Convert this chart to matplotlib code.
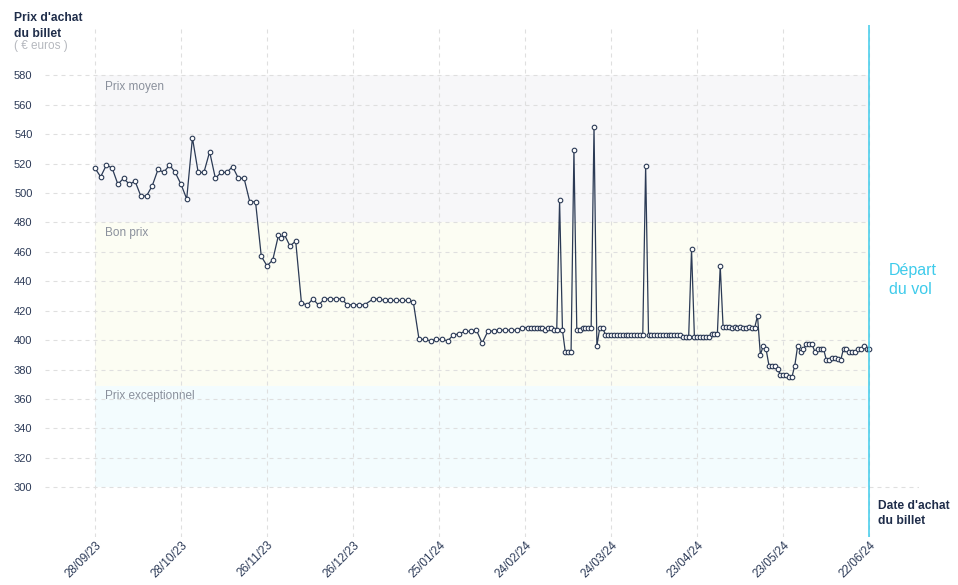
import matplotlib
matplotlib.use("Agg")
import matplotlib.pyplot as plt

plt.rcParams['font.family'] = ['Liberation Sans', 'DejaVu Sans']

# jours depuis le 28/09/23 (date d'achat) et prix du billet en euros
jours = (list(range(0, 61, 2)) + [62, 64, 65, 66, 68, 70]
         + list(range(72, 95, 2)) + list(range(97, 150, 2)) + list(range(151, 271)))

prix = [
    # tous les 2 jours, 28/09 -> 26/11
    517, 511, 519, 517, 506, 510, 506, 508, 498, 498, 505, 516, 514, 519, 514, 506,
    496, 537.5, 514, 514, 528, 510, 514, 514, 518, 510, 510, 494, 494, 457, 450.5,
    454.5, 471.4, 469.6, 472, 464, 467.3,
    425.4, 423.8, 428, 423.8, 428, 428, 428, 428, 424, 424, 424, 424,
    428, 428, 427, 427, 427, 427, 427, 426, 400.5, 400.5, 399.5, 400.5, 400.5, 399.5,
    403.6, 404.3, 406, 406, 406.8, 398, 406, 406.3, 406.8, 406.8, 406.8, 406.8, 408.4,
    # tous les jours
    408.4, 408.4, 408.4, 408.4, 408.4, 408.4, 406.8, 408.4, 408.4, 406.8, 406.8,
    495, 406.8, 391.8, 391.8, 391.8, 529, 406.8, 406.8, 408.4, 408.4, 408.4, 408.4,
    545, 396, 408.4, 408.4,
    403.6, 403.6, 403.6, 403.6, 403.6, 403.6, 403.6, 403.6, 403.6, 403.6, 403.6, 403.6, 403.6, 403.6,
    518.4,
    403.4, 403.4, 403.4, 403.4, 403.4, 403.4, 403.4, 403.4, 403.4, 403.4, 403.4, 403.4,
    402.3, 402.3, 402.3, 461.7, 402.3, 402.3, 402.3, 402.3, 402.3, 402.3,
    403.9, 403.9, 403.9, 450.5,
    409, 409, 409, 408, 409, 408, 409, 408, 408, 409, 408.4, 408.4, 416.5,
    390, 396.2, 393.7, 382.7, 382.7, 382.7, 380.3, 376.4, 376.4, 376.4, 375, 375,
    382.7, 396.2, 392.1, 393.7, 397.3, 397.3, 397.3, 392.1, 394.3, 394.3, 394.3,
    386.4, 386.4, 388, 388, 387.1, 386.4, 394.3, 393.7, 392.1, 392.1, 392.1,
    393.7, 393.7, 396.2, 393.7, 393.7,
]

graduations_y = [300, 320, 340, 360, 380, 400, 420, 440, 460, 480, 500, 520, 540, 560, 580]
graduations_x = [0, 30, 60, 90, 120, 150, 180, 210, 240, 270]
etiquettes_x = ['28/09/23', '28/10/23', '26/11/23', '26/12/23', '25/01/24',
                '24/02/24', '24/03/24', '23/04/24', '23/05/24', '22/06/24']

# zones de prix (bas, haut, nom, position du nom)
zones = [(480, 580, 'Prix moyen', 572), (369, 480, 'Bon prix', 472.8),
         (300, 369, 'Prix exceptionnel', 362)]
couleurs_zones = ['#f7f7f9', '#fcfdf3', '#f3fcfe']

W, H = 958, 585
fig = plt.figure(figsize=(W / 100, H / 100), dpi=100)
ax = fig.add_axes([45 / W, 48 / H, (919 - 45) / W, (537 - 25) / H])
xmin, xmax = -17.4, 287.3
ax.set_xlim(xmin, xmax)
ax.set_ylim(266.2, 614.2)

gris = '#dfdfdf'
tirets = (0, (3.6, 3.6))

for (bas, haut, nom, ynom), c in zip(zones, couleurs_zones):
    ax.fill_between([jours[0], jours[-1]], bas, haut, color=c, lw=0, zorder=0)
    ax.text(jours[0] + 3.5, ynom, nom, color='#8a909c', fontsize=8.5,
            va='center', ha='left', zorder=1)

for v in graduations_y:
    fin = xmax if v == graduations_y[0] else jours[-1]
    ax.hlines(v, xmin, fin, colors=gris, lw=0.8, linestyles=tirets, zorder=1)
for d in graduations_x:
    ax.axvline(d, color=gris, lw=0.8, ls=tirets, zorder=1)

ax.axvline(jours[-1], color='#3ecbeb', lw=1.1, zorder=4)

ax.plot(jours, prix, color='#2b3a55', lw=0.9, marker='o', markersize=3.3,
        markerfacecolor='white', markeredgecolor='#2b3a55', markeredgewidth=0.8, zorder=3)

ax.set_yticks(graduations_y)
ax.set_yticklabels([str(v) for v in graduations_y])
ax.set_xticks(graduations_x)
ax.set_xticklabels(etiquettes_x, rotation=45, ha='right', va='top', rotation_mode='anchor')
ax.tick_params(axis='y', length=0, pad=9, labelsize=8, labelcolor='#2c3a57')
ax.tick_params(axis='x', length=0, pad=1.5, labelsize=8.5, labelcolor='#2c3a57')
for s in ax.spines.values():
    s.set_visible(False)

fonce = '#1f2d4a'
fig.text(14 / W, 1 - 18 / H, "Prix d'achat", fontsize=8.7, fontweight='bold', color=fonce, va='center')
fig.text(14 / W, 1 - 34 / H, "du billet", fontsize=8.7, fontweight='bold', color=fonce, va='center')
fig.text(14 / W, 1 - 46 / H, "( € euros )", fontsize=8.5, color='#b5b8be', va='center')
fig.text(878 / W, 1 - 506 / H, "Date d'achat", fontsize=8.7, fontweight='bold', color=fonce, va='center')
fig.text(878 / W, 1 - 521 / H, "du billet", fontsize=8.7, fontweight='bold', color=fonce, va='center')
fig.text(889 / W, 1 - 270 / H, "Départ", fontsize=11.5, color='#3ecbeb', va='center')
fig.text(889 / W, 1 - 290 / H, "du vol", fontsize=11.5, color='#3ecbeb', va='center')

fig.savefig('out.png', dpi=100)
